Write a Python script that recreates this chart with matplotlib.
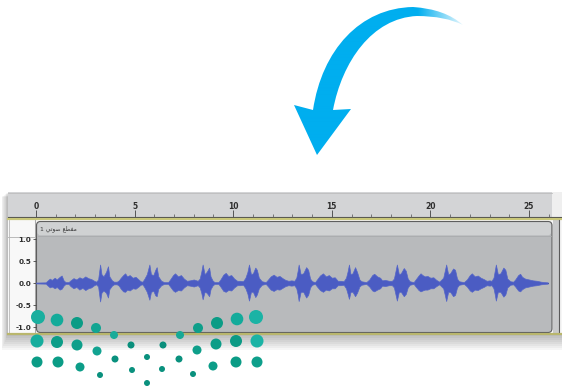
import numpy as np
import matplotlib
matplotlib.use("Agg")
import matplotlib.pyplot as plt
from matplotlib.patches import Rectangle, FancyBboxPatch, Circle, PathPatch
from matplotlib.path import Path

# ---------------- data ----------------
ruler_major = [0, 5, 10, 15, 20, 25]
ruler_minor = list(range(0, 27))
amp_ticks = [1.0, 0.5, 0.0, -0.5, -1.0]
amp_labels = ["1.0", "0.5", "0.0", "-0.5", "-1.0"]
# "مقطع صوتي 1" written with presentation forms in visual order
track_title = "1 \uFEF2\uFE97\uFEEE\uFEBB \uFECA\uFEC4\uFED4\uFEE3"

wave_t = [0.0, 0.5,
          0.55, 0.7, 0.8, 0.95, 1.05, 1.2, 1.3, 1.4, 1.5, 1.65,
          1.75, 1.9, 2.05, 2.2, 2.35, 2.5, 2.65, 2.8, 2.95, 3.05,
          3.15, 3.25, 3.32, 3.42, 3.55, 3.65, 3.72, 3.85, 3.95, 4.1,
          4.2, 4.3, 4.42, 4.52, 4.62, 4.75, 4.9, 5.05, 5.2, 5.3, 5.4,
          5.5, 5.62, 5.75, 5.83, 5.95, 6.05, 6.12, 6.2, 6.35, 6.5, 6.7,
          6.8, 6.95, 7.05, 7.2, 7.35, 7.5, 7.65, 7.8, 8.0, 8.2,
          8.3, 8.38, 8.45, 8.55, 8.65, 8.78, 8.85, 8.95, 9.05, 9.25,
          9.35, 9.5, 9.62, 9.75, 9.9, 10.05, 10.2, 10.35, 10.5,
          10.62, 10.72, 10.8, 10.9, 11.0, 11.12, 11.2, 11.3, 11.45, 11.65,
          11.75, 11.9, 12.05, 12.2, 12.35, 12.5, 12.65, 12.8, 12.95, 13.1,
          13.2, 13.27, 13.32, 13.42, 13.55, 13.7, 13.8, 13.9, 14.0, 14.15,
          14.25, 14.4, 14.55, 14.7, 14.85, 15.0, 15.15, 15.3, 15.45, 15.6,
          15.72, 15.8, 15.87, 15.95, 16.05, 16.18, 16.28, 16.4, 16.5, 16.75,
          16.9, 17.05, 17.15, 17.3, 17.45, 17.55, 17.7, 17.9, 18.05,
          18.15, 18.22, 18.3, 18.4, 18.5, 18.65, 18.75, 18.85, 18.95, 19.15,
          19.25, 19.4, 19.5, 19.6, 19.72, 19.85, 20.0, 20.15, 20.3, 20.45,
          20.65, 20.72, 20.8, 20.9, 21.0, 21.15, 21.25, 21.35, 21.45, 21.7,
          21.85, 22.0, 22.1, 22.25, 22.4, 22.55, 22.7, 22.85, 23.0, 23.1,
          23.2, 23.26, 23.32, 23.42, 23.55, 23.7, 23.8, 23.9, 24.05, 24.2,
          24.3, 24.45, 24.55, 24.65, 24.8, 25.0, 25.2, 25.4, 25.6, 25.8, 25.95]

wave_hi = [0.01, 0.015,
           0.04, 0.10, 0.07, 0.12, 0.08, 0.14, 0.17, 0.06, 0.02, 0.02,
           0.06, 0.11, 0.08, 0.13, 0.10, 0.15, 0.11, 0.09, 0.05, 0.03,
           0.08, 0.42, 0.20, 0.15, 0.25, 0.38, 0.15, 0.06, 0.03, 0.03,
           0.06, 0.12, 0.18, 0.22, 0.15, 0.18, 0.12, 0.14, 0.08, 0.04, 0.03,
           0.10, 0.20, 0.42, 0.20, 0.18, 0.30, 0.36, 0.15, 0.05, 0.02, 0.02,
           0.08, 0.18, 0.22, 0.15, 0.18, 0.10, 0.05, 0.06, 0.08, 0.05,
           0.10, 0.25, 0.42, 0.20, 0.25, 0.35, 0.15, 0.06, 0.02, 0.02,
           0.08, 0.19, 0.23, 0.16, 0.18, 0.10, 0.05, 0.05, 0.04,
           0.12, 0.25, 0.42, 0.20, 0.22, 0.35, 0.30, 0.12, 0.04, 0.02,
           0.07, 0.15, 0.19, 0.14, 0.16, 0.11, 0.07, 0.05, 0.06, 0.05,
           0.12, 0.28, 0.42, 0.20, 0.22, 0.36, 0.30, 0.10, 0.04, 0.02,
           0.08, 0.17, 0.22, 0.15, 0.18, 0.12, 0.13, 0.05, 0.05, 0.04,
           0.12, 0.26, 0.42, 0.20, 0.22, 0.36, 0.25, 0.08, 0.04, 0.02,
           0.08, 0.18, 0.21, 0.15, 0.12, 0.06, 0.07, 0.05, 0.05,
           0.10, 0.25, 0.42, 0.20, 0.22, 0.34, 0.28, 0.10, 0.04, 0.02,
           0.08, 0.17, 0.22, 0.18, 0.15, 0.16, 0.12, 0.13, 0.07, 0.03,
           0.12, 0.26, 0.42, 0.20, 0.22, 0.33, 0.30, 0.10, 0.04, 0.02,
           0.08, 0.18, 0.22, 0.15, 0.17, 0.12, 0.09, 0.05, 0.06, 0.05,
           0.12, 0.27, 0.42, 0.20, 0.22, 0.35, 0.30, 0.10, 0.04, 0.03,
           0.08, 0.18, 0.21, 0.14, 0.10, 0.08, 0.06, 0.05, 0.03, 0.02, 0.015]

wave_lo = [-0.01, -0.015,
           -0.04, -0.10, -0.08, -0.12, -0.09, -0.15, -0.13, -0.06, -0.02, -0.02,
           -0.07, -0.12, -0.09, -0.15, -0.11, -0.16, -0.12, -0.10, -0.05, -0.03,
           -0.08, -0.42, -0.22, -0.17, -0.22, -0.33, -0.14, -0.06, -0.03, -0.03,
           -0.06, -0.13, -0.19, -0.20, -0.15, -0.17, -0.12, -0.13, -0.08, -0.04, -0.03,
           -0.10, -0.20, -0.38, -0.20, -0.18, -0.28, -0.30, -0.13, -0.05, -0.02, -0.02,
           -0.08, -0.17, -0.20, -0.16, -0.17, -0.10, -0.05, -0.06, -0.08, -0.05,
           -0.10, -0.22, -0.37, -0.20, -0.22, -0.30, -0.14, -0.06, -0.02, -0.02,
           -0.08, -0.18, -0.20, -0.16, -0.17, -0.10, -0.05, -0.05, -0.04,
           -0.12, -0.24, -0.40, -0.20, -0.20, -0.32, -0.26, -0.12, -0.04, -0.02,
           -0.07, -0.15, -0.18, -0.14, -0.15, -0.11, -0.07, -0.05, -0.06, -0.05,
           -0.12, -0.26, -0.41, -0.20, -0.20, -0.33, -0.27, -0.10, -0.04, -0.02,
           -0.08, -0.16, -0.20, -0.15, -0.17, -0.12, -0.12, -0.05, -0.05, -0.04,
           -0.12, -0.24, -0.36, -0.20, -0.20, -0.30, -0.22, -0.08, -0.04, -0.02,
           -0.08, -0.17, -0.19, -0.15, -0.12, -0.06, -0.07, -0.05, -0.05,
           -0.10, -0.24, -0.40, -0.20, -0.20, -0.30, -0.25, -0.10, -0.04, -0.02,
           -0.08, -0.16, -0.19, -0.17, -0.15, -0.15, -0.12, -0.12, -0.07, -0.03,
           -0.12, -0.25, -0.41, -0.20, -0.20, -0.30, -0.27, -0.10, -0.04, -0.02,
           -0.08, -0.17, -0.20, -0.15, -0.16, -0.12, -0.09, -0.05, -0.06, -0.05,
           -0.12, -0.25, -0.40, -0.20, -0.20, -0.31, -0.26, -0.10, -0.04, -0.03,
           -0.08, -0.17, -0.19, -0.14, -0.10, -0.08, -0.06, -0.05, -0.03, -0.02, -0.015]

# ---------------- layout ----------------
W, H = 562, 388
fig = plt.figure(figsize=(W / 100, H / 100), dpi=100)
fig.patch.set_facecolor("white")


def rect(x0, y0, x1, y1):
    return [x0 / W, 1 - y1 / H, (x1 - x0) / W, (y1 - y0) / H]


PX = 19.72      # pixels per second
X0 = 36         # pixel of t = 0
Y0 = 283        # pixel of amplitude 0
PY = 44         # pixels per amplitude unit

# background drawing layer (pixel coordinates)
bg = fig.add_axes([0, 0, 1, 1], zorder=0)
bg.set_xlim(0, W)
bg.set_ylim(H, 0)
bg.axis("off")

# soft drop shadow (stronger toward the bottom)
for s in range(1, 9):
    bg.add_patch(Rectangle((8 - s * 0.8, 192 + s * 0.6), 556 + s, 142 + s * 1.4,
                           facecolor="black", alpha=0.035, lw=0))
# panel body
bg.add_patch(Rectangle((8, 192), 556, 142, facecolor="#f6f6f6", lw=0))
# ruler
bg.add_patch(Rectangle((8, 192), 544, 25, facecolor="#d3d4d6", lw=0))
bg.add_patch(Rectangle((552, 192), 12, 25, facecolor="#efefef", lw=0))
bg.plot([8, 552], [192.5, 192.5], color="#bdbdbd", lw=0.6)
bg.plot([8, 564], [217.3, 217.3], color="#4e4e4e", lw=0.8)
bg.plot([8, 564], [219.2, 219.2], color="#c9c77a", lw=1.6)
# left column
bg.add_patch(Rectangle((8, 220), 26, 113, facecolor="#f8f8f8", lw=0))
bg.plot([34.5, 34.5], [220, 333], color="#9a9a9a", lw=0.6)
bg.plot([8, 34.5], [236.5, 236.5], color="#b0b0b0", lw=0.6)
bg.plot([8.5, 8.5], [220, 333], color="#b8b8b8", lw=0.6)
# track box
bg.add_patch(FancyBboxPatch((36.5, 221.5), 515.5, 111, boxstyle="round,pad=0,rounding_size=4",
                            facecolor="#b8babc", edgecolor="#5e5e5e", lw=0.8))
bg.add_patch(FancyBboxPatch((37.5, 222.3), 513.5, 13, boxstyle="round,pad=0,rounding_size=3",
                            facecolor="#cfd1d2", edgecolor="none"))
bg.plot([37.5, 551], [235.6, 235.6], color="#a9abad", lw=0.6)
bg.text(40, 228.8, track_title, fontsize=4.3, color="#3a3a3a", va="center", ha="left",
        family="DejaVu Sans")
# right strip
bg.add_patch(Rectangle((553, 220), 5.5, 113, facecolor="#c9cacb", lw=0))
bg.plot([558.7, 558.7], [220, 333], color="#5a5a5a", lw=0.8)
# bottom olive line
bg.plot([8, 564], [333.6, 333.6], color="#b9b66c", lw=1.6)

# ---------------- ruler axis ----------------
ruler = fig.add_axes(rect(8, 192, 562, 217), zorder=1)
ruler.set_facecolor("none")
ruler.set_xlim((8 - X0) / PX, (562 - X0) / PX)
ruler.set_ylim(0, 1)
for sp in ruler.spines.values():
    sp.set_visible(False)
ruler.set_yticks([])
ruler.set_xticks(ruler_major)
ruler.set_xticklabels([str(v) for v in ruler_major])
ruler.set_xticks(ruler_minor, minor=True)
ruler.tick_params(axis="x", which="major", direction="in", length=5, width=0.7,
                  color="#555555", labelsize=5.5, labelcolor="#2e2e2e", pad=-10.5)
ruler.tick_params(axis="x", which="minor", direction="in", length=2.5, width=0.6,
                  color="#666666")
for lab in ruler.get_xticklabels():
    lab.set_fontweight("bold")

# ---------------- waveform axis ----------------
main = fig.add_axes(rect(36, 221, 552, 333), zorder=2)
main.set_facecolor("none")
main.set_xlim(0, (552 - X0) / PX)
main.set_ylim((Y0 - 333) / PY, (Y0 - 221) / PY)
for sp in main.spines.values():
    sp.set_visible(False)
main.set_xticks([])
main.set_yticks(amp_ticks)
main.set_yticklabels(amp_labels)
main.tick_params(axis="y", direction="out", length=2.5, width=0.6, color="#444444",
                 labelsize=5.2, labelcolor="#2e2e2e", pad=0.8)
for lab in main.get_yticklabels():
    lab.set_fontweight("bold")

t = np.array(wave_t)
main.plot([0, t[-1]], [0, 0], color="#2d3350", lw=0.7, zorder=1)
main.fill_between(t, wave_lo, wave_hi, color="#4b5cc3", lw=0.5, edgecolor="#5566c8", zorder=2)

# ---------------- foreground: arrow and logo ----------------
fg = fig.add_axes([0, 0, 1, 1], zorder=3)
fg.set_facecolor("none")
fg.set_xlim(0, W)
fg.set_ylim(H, 0)
fg.axis("off")

verts = [(463, 25),
         (445, 9), (413, 7),
         (360, 8), (322, 50), (313, 110),
         (294, 105),
         (317, 155),
         (351, 109),
         (333, 110),
         (342, 62), (372, 18), (417, 16),
         (445, 16), (463, 25),
         (463, 25)]
codes = [Path.MOVETO,
         Path.CURVE3, Path.CURVE3,
         Path.CURVE4, Path.CURVE4, Path.CURVE4,
         Path.LINETO,
         Path.LINETO,
         Path.LINETO,
         Path.LINETO,
         Path.CURVE4, Path.CURVE4, Path.CURVE4,
         Path.CURVE3, Path.CURVE3,
         Path.CLOSEPOLY]
arrow_path = Path(verts, codes)
clip = PathPatch(arrow_path, transform=fg.transData, facecolor="none", edgecolor="none")
xs = np.linspace(280, 470, 380)
alpha = np.clip((468 - xs) / 50.0, 0, 1)
img = np.zeros((2, len(xs), 4))
img[..., 0] = 0 / 255
img[..., 1] = 174 / 255
img[..., 2] = 239 / 255
img[..., 3] = alpha[None, :]
im = fg.imshow(img, extent=[280, 470, 160, 0], aspect="auto", interpolation="bilinear", zorder=3)
im.set_clip_path(clip)
fg.set_xlim(0, W)
fg.set_ylim(H, 0)

dots = [(38, 317, 7, "#1aaf9f"), (57, 320, 6.3, "#14ab9a"), (77, 323, 6, "#0b9c86"),
        (96, 328, 5, "#12a592"), (114, 335, 4, "#1aab99"), (180, 335, 4, "#17a996"),
        (198, 328, 5, "#0e9f8a"), (217, 323, 6, "#0b9c86"), (237, 319, 6.3, "#13ab9b"),
        (256, 317, 7, "#1bb3a5"),
        (37, 341, 6.5, "#16ad9d"), (57, 342, 6, "#0c9d88"), (77, 345, 5.5, "#0e9f8b"),
        (97, 351, 4.5, "#12a391"), (131, 345, 3.5, "#0a8f7c"), (163, 345, 3.5, "#0a8f7c"),
        (197, 350, 4.5, "#0e9f8a"), (216, 344, 5.5, "#0c9d88"), (236, 341, 6, "#0b9a85"),
        (257, 341, 6.5, "#1bb3a5"),
        (37, 362, 5.5, "#0b9c86"), (58, 362, 5.5, "#0b9c86"), (80, 367, 4.5, "#0c9d88"),
        (100, 375, 3, "#0a917e"), (115, 359, 3.5, "#0a917e"), (132, 370, 3, "#0a917e"),
        (147, 357, 3, "#0a917e"), (147, 383, 3, "#0a917e"), (162, 369, 3, "#0a917e"),
        (179, 359, 3.5, "#0a917e"), (193, 374, 3, "#0a917e"), (213, 366, 4.5, "#0c9d88"),
        (236, 362, 5.5, "#0b9c86"), (257, 362, 5.5, "#0e9f8b")]
for x, y, r, c in dots:
    fg.add_patch(Circle((x, y), r, facecolor=c, edgecolor="none", zorder=4))

fig.savefig("out.png", dpi=100, facecolor="white")
